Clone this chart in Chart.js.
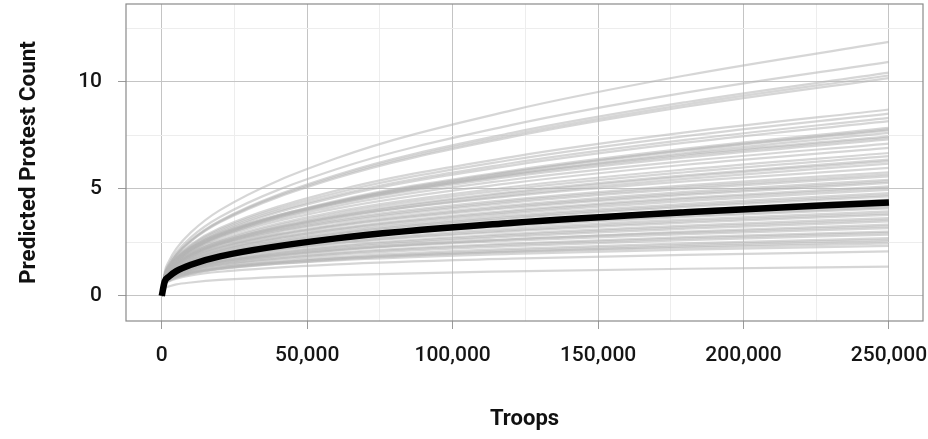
<!DOCTYPE html>
<html>
<head>
<meta charset="utf-8">
<script src="https://cdn.jsdelivr.net/npm/chart.js@4"></script>
<style>
  html, body { margin: 0; padding: 0; background: #ffffff; }
  #wrap { width: 928px; height: 439px; position: relative; }
</style>
</head>
<body>
<div id="wrap"><canvas id="c" width="928" height="439"></canvas></div>
<script>
const troops = [0, 1000, 2500, 5000, 10000, 20000, 60000, 120000, 180000, 250000];

// Mean predicted curve (thick black line)
const meanCurve = [0, 0.67, 0.91, 1.16, 1.46, 1.85, 2.69, 3.41, 3.91, 4.37];

// Simulated curves (light grey lines)
const simulatedCurves = [
  [0,1.11,1.64,2.21,2.97,4.01,6.43,8.66,10.30,11.87],
  [0,1.02,1.51,2.03,2.74,3.69,5.92,7.98,9.50,10.94],
  [0,0.97,1.44,1.94,2.61,3.52,5.65,7.61,9.05,10.43],
  [0,0.96,1.42,1.92,2.58,3.48,5.58,7.51,8.94,10.30],
  [0,0.95,1.40,1.89,2.55,3.44,5.51,7.42,8.84,10.18],
  [0,0.96,1.38,1.82,2.40,3.17,4.92,6.49,7.64,8.71],
  [0,0.94,1.35,1.78,2.35,3.10,4.81,6.35,7.47,8.52],
  [0,0.91,1.32,1.74,2.30,3.03,4.70,6.20,7.29,8.32],
  [0,0.90,1.29,1.71,2.25,2.97,4.62,6.09,7.16,8.17],
  [0,0.86,1.24,1.64,2.17,2.86,4.44,5.85,6.88,7.85],
  [0,0.86,1.23,1.63,2.15,2.83,4.40,5.80,6.82,7.78],
  [0,0.85,1.23,1.62,2.14,2.82,4.37,5.77,6.79,7.74],
  [0,0.84,1.21,1.59,2.10,2.77,4.31,5.68,6.68,7.62],
  [0,0.97,1.36,1.76,2.27,2.93,4.40,5.69,6.61,7.46],
  [0,0.96,1.35,1.74,2.25,2.91,4.36,5.64,6.55,7.40],
  [0,0.95,1.33,1.72,2.22,2.87,4.31,5.57,6.47,7.31],
  [0,0.92,1.30,1.68,2.16,2.80,4.20,5.43,6.30,7.12],
  [0,0.90,1.26,1.63,2.10,2.72,4.08,5.27,6.13,6.92],
  [0,0.87,1.22,1.57,2.03,2.62,3.94,5.09,5.91,6.68],
  [0,0.85,1.19,1.54,1.99,2.56,3.85,4.98,5.78,6.53],
  [0,0.83,1.16,1.50,1.94,2.50,3.76,4.86,5.64,6.37],
  [0,0.82,1.15,1.48,1.92,2.47,3.72,4.80,5.58,6.30],
  [0,0.80,1.12,1.45,1.88,2.43,3.65,4.71,5.47,6.18],
  [0,0.92,1.25,1.58,2.00,2.53,3.68,4.66,5.35,5.98],
  [0,0.88,1.21,1.53,1.93,2.45,3.56,4.50,5.17,5.78],
  [0,0.87,1.19,1.50,1.90,2.41,3.50,4.43,5.08,5.68],
  [0,0.86,1.17,1.48,1.87,2.37,3.44,4.36,5.00,5.59],
  [0,0.83,1.13,1.44,1.82,2.30,3.34,4.23,4.86,5.43],
  [0,0.82,1.12,1.42,1.79,2.27,3.29,4.17,4.78,5.35],
  [0,0.81,1.10,1.40,1.77,2.24,3.25,4.11,4.72,5.28],
  [0,0.78,1.07,1.35,1.71,2.17,3.15,3.99,4.58,5.12],
  [0,0.77,1.06,1.34,1.69,2.14,3.11,3.93,4.52,5.05],
  [0,0.76,1.04,1.31,1.66,2.10,3.05,3.86,4.43,4.96],
  [0,0.74,1.01,1.27,1.61,2.04,2.96,3.75,4.30,4.81],
  [0,0.72,0.99,1.25,1.58,2.00,2.91,3.68,4.22,4.72],
  [0,0.71,0.97,1.23,1.56,1.97,2.86,3.62,4.16,4.65],
  [0,0.69,0.94,1.19,1.51,1.91,2.77,3.51,4.02,4.50],
  [0,0.77,1.03,1.27,1.58,1.96,2.75,3.41,3.87,4.28],
  [0,0.76,1.01,1.26,1.56,1.93,2.71,3.36,3.81,4.22],
  [0,0.75,1.00,1.23,1.53,1.90,2.67,3.31,3.75,4.15],
  [0,0.74,0.98,1.22,1.51,1.87,2.63,3.26,3.69,4.09],
  [0,0.71,0.95,1.18,1.46,1.81,2.54,3.15,3.57,3.95],
  [0,0.70,0.93,1.15,1.42,1.76,2.48,3.07,3.49,3.86],
  [0,0.68,0.91,1.13,1.40,1.73,2.44,3.02,3.42,3.79],
  [0,0.66,0.87,1.08,1.34,1.66,2.34,2.90,3.29,3.64],
  [0,0.64,0.85,1.06,1.31,1.63,2.29,2.84,3.22,3.56],
  [0,0.63,0.83,1.04,1.28,1.59,2.24,2.77,3.14,3.48],
  [0,0.60,0.80,0.99,1.23,1.52,2.14,2.65,3.01,3.33],
  [0,0.69,0.90,1.09,1.32,1.60,2.18,2.65,2.96,3.25],
  [0,0.68,0.87,1.06,1.29,1.56,2.13,2.58,2.89,3.17],
  [0,0.64,0.83,1.01,1.22,1.48,2.02,2.45,2.75,3.01],
  [0,0.63,0.81,0.99,1.20,1.45,1.98,2.40,2.69,2.95],
  [0,0.61,0.79,0.96,1.16,1.41,1.92,2.33,2.61,2.86],
  [0,0.58,0.74,0.90,1.10,1.33,1.81,2.20,2.46,2.70],
  [0,0.56,0.72,0.88,1.06,1.29,1.76,2.13,2.39,2.62],
  [0,0.54,0.70,0.85,1.03,1.25,1.70,2.07,2.32,2.54],
  [0,0.65,0.81,0.96,1.13,1.34,1.74,2.05,2.26,2.45],
  [0,0.62,0.78,0.92,1.08,1.28,1.66,1.96,2.16,2.34],
  [0,0.55,0.69,0.81,0.96,1.13,1.48,1.74,1.92,2.08],
  [0,0.36,0.45,0.54,0.63,0.75,0.97,1.15,1.27,1.37]
];

// Axis ticks (major + minor grid positions) and labelled ticks
const xGridTicks = [0, 25000, 50000, 75000, 100000, 125000, 150000, 175000, 200000, 225000, 250000];
const xLabelTicks = [0, 50000, 100000, 150000, 200000, 250000];
const yGridTicks = [0, 2.5, 5, 7.5, 10, 12.5];
const yLabelTicks = [0, 5, 10];

const xTitle = 'Troops';
const yTitle = 'Predicted Protest Count';

const FONT = "Roboto, 'Liberation Sans', sans-serif";

function toPoints(ys) { return troops.map((t, i) => ({ x: t, y: ys[i] })); }

const datasets = simulatedCurves.map(c => ({
  data: toPoints(c),
  borderColor: 'rgba(180,180,180,0.55)',
  borderWidth: 2.2,
  pointRadius: 0,
  cubicInterpolationMode: 'monotone',
  order: 1
}));
datasets.push({
  data: toPoints(meanCurve),
  borderColor: '#000000',
  borderWidth: 6.5,
  pointRadius: 0,
  cubicInterpolationMode: 'monotone',
  borderCapStyle: 'butt',
  borderJoinStyle: 'round',
  order: 0
});

const panelBorder = {
  id: 'panelBorder',
  afterDraw(chart) {
    const { ctx, chartArea: a } = chart;
    ctx.save();
    ctx.strokeStyle = '#8a8a8a';
    ctx.lineWidth = 1.2;
    ctx.strokeRect(a.left, a.top, a.right - a.left, a.bottom - a.top);
    ctx.restore();
  }
};

const isMajorX = v => xLabelTicks.includes(v);
const isMajorY = v => yLabelTicks.includes(v);

new Chart(document.getElementById('c'), {
  type: 'line',
  data: { datasets },
  options: {
    responsive: false,
    animation: false,
    devicePixelRatio: 1,
    layout: { padding: { top: 4, right: 5, left: 0, bottom: 0 } },
    plugins: { legend: { display: false }, tooltip: { enabled: false } },
    scales: {
      x: {
        type: 'linear',
        min: -12300,
        max: 261700,
        afterBuildTicks: s => { s.ticks = xGridTicks.map(v => ({ value: v })); },
        afterFit: s => { s.height = 118; s.paddingLeft = 0; s.paddingRight = 0; },
        border: { display: false },
        grid: {
          color: ctx => isMajorX(ctx.tick.value) ? '#c4c4c4' : '#ededed',
          tickColor: ctx => isMajorX(ctx.tick.value) ? '#9a9a9a' : 'rgba(0,0,0,0)',
          lineWidth: 1,
          tickLength: 8
        },
        ticks: {
          autoSkip: false,
          maxRotation: 0,
          padding: 14,
          color: '#151515',
          font: { family: FONT, size: 21, weight: '500' },
          callback: v => isMajorX(v) ? v.toLocaleString('en-US') : ''
        },
        title: {
          display: true,
          text: xTitle,
          color: '#111111',
          font: { family: FONT, size: 22, weight: 'bold' },
          padding: { top: 0, bottom: 6 }
        }
      },
      y: {
        type: 'linear',
        min: -1.17,
        max: 13.64,
        afterBuildTicks: s => { s.ticks = yGridTicks.map(v => ({ value: v })); },
        afterFit: s => { s.width = 126; s.paddingTop = 0; s.paddingBottom = 0; },
        border: { display: false },
        grid: {
          color: ctx => isMajorY(ctx.tick.value) ? '#c4c4c4' : '#ededed',
          tickColor: ctx => isMajorY(ctx.tick.value) ? '#9a9a9a' : 'rgba(0,0,0,0)',
          lineWidth: 1,
          tickLength: 8
        },
        ticks: {
          autoSkip: false,
          padding: 16,
          color: '#151515',
          font: { family: FONT, size: 21, weight: '500' },
          callback: v => isMajorY(v) ? String(v) : ''
        },
        title: {
          display: true,
          text: yTitle,
          color: '#111111',
          font: { family: FONT, size: 22.5, weight: 'bold' },
          padding: { top: 16, bottom: 0 }
        }
      }
    }
  },
  plugins: [panelBorder]
});
</script>
</body>
</html>
